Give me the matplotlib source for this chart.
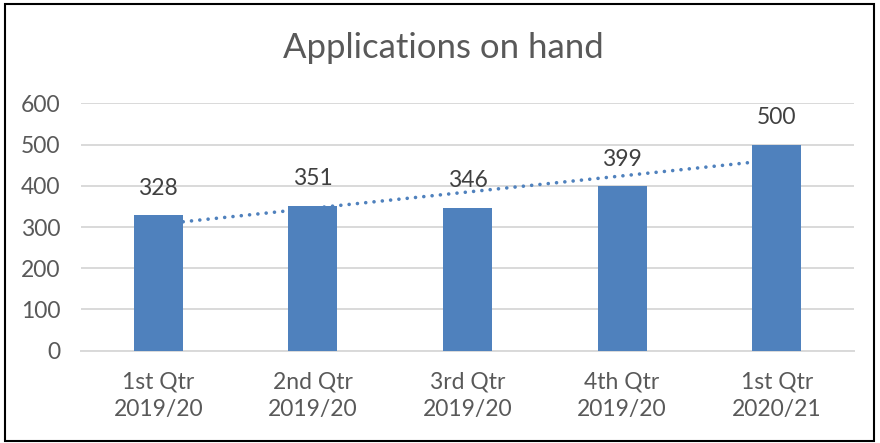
import numpy as np
import matplotlib.pyplot as plt
from matplotlib.patches import Rectangle

# chart data
quarters = ['1st Qtr\n2019/20', '2nd Qtr\n2019/20', '3rd Qtr\n2019/20',
            '4th Qtr\n2019/20', '1st Qtr\n2020/21']
applications = [328, 351, 346, 399, 500]
y_ticks = [0, 100, 200, 300, 400, 500, 600]

bar_color = '#4F81BD'
text_color = '#595959'
grid_color = '#D9D9D9'

plt.rcParams['font.family'] = ['Lato', 'DejaVu Sans']

fig = plt.figure(figsize=(8.8, 4.43), dpi=100)
ax = fig.add_axes([81 / 880, (443 - 350.7) / 443, 773 / 880, 247.4 / 443])

x = np.arange(len(quarters))
bars = ax.bar(x, applications, width=0.317, color=bar_color, zorder=3)

# linear trendline, behind the bars like Excel draws it
slope, intercept = np.polyfit(x, applications, 1)
ax.plot(x, slope * x + intercept, linestyle=(0, (0.01, 2.3)), linewidth=2.6,
        color=bar_color, dash_capstyle='round', zorder=2)

for xi, v in zip(x, applications):
    ax.annotate(str(v), (xi, v), xytext=(0, 12), textcoords='offset points',
                ha='center', va='bottom', fontsize=16.5, color='#404040')

ax.set_xlim(-0.5, len(quarters) - 0.5)
ax.set_ylim(0, 600)
ax.set_yticks(y_ticks)
ax.set_xticks(x)
ax.set_xticklabels(quarters, linespacing=1.4)
ax.tick_params(axis='both', length=0, labelsize=16.5, labelcolor=text_color)
ax.tick_params(axis='y', pad=15)
ax.tick_params(axis='x', pad=15)

ax.grid(axis='y', color=grid_color, linewidth=1.4, zorder=0)
for side in ['top', 'right', 'left']:
    ax.spines[side].set_visible(False)
ax.spines['bottom'].set_color(grid_color)
ax.spines['bottom'].set_linewidth(1.4)

fig.text(443 / 880, 1 - 48 / 443, 'Applications on hand', ha='center',
         va='center', fontsize=25, color=text_color)

# outer chart frame
fig.patches.append(Rectangle((5 / 880, 2 / 443), 869 / 880, 437 / 443,
                             transform=fig.transFigure, fill=False,
                             edgecolor='black', linewidth=1.5))

fig.savefig('out.png', dpi=100)
